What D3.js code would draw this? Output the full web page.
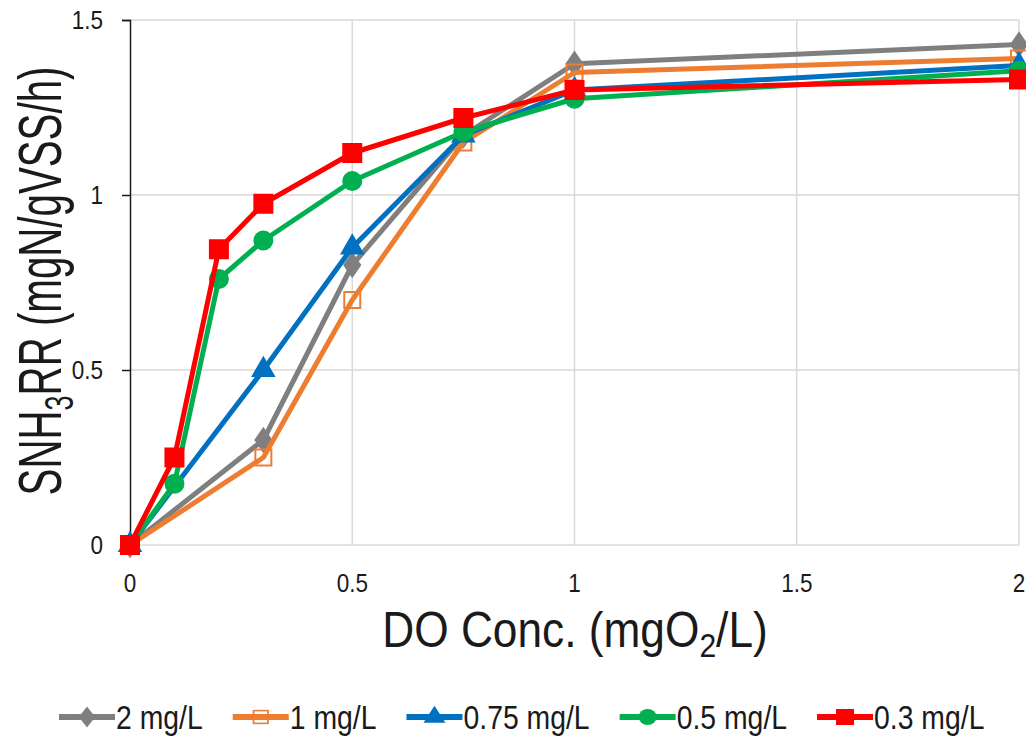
<!DOCTYPE html>
<html>
<head>
<meta charset="utf-8">
<script src="https://cdn.jsdelivr.net/npm/d3@7"></script>
<style>
  body { margin: 0; background: #fff; }
  text { font-family: "Liberation Sans", Arial, sans-serif; fill: #1a1a1a; }
</style>
</head>
<body>
<div id="chart"></div>
<script>
// data
var seriesNames = ["2 mg/L", "1 mg/L", "0.75 mg/L", "0.5 mg/L", "0.3 mg/L"];
var seriesColors = ["#7f7f7f", "#ed7d31", "#0070c0", "#00b050", "#ff0000"];
var seriesMarkers = ["diamond", "openSquare", "triangle", "circle", "square"];

var doShort = [0, 0.3, 0.5, 0.75, 1, 2];
var doLong = [0, 0.1, 0.2, 0.3, 0.5, 0.75, 1, 2];

var rate2 = [0, 0.30, 0.80, 1.17, 1.375, 1.43];
var rate1 = [0, 0.25, 0.70, 1.15, 1.35, 1.39];
var rate075 = [0, 0.50, 0.85, 1.17, 1.30, 1.37];
var rate05 = [0, 0.175, 0.76, 0.87, 1.04, 1.18, 1.275, 1.355];
var rate03 = [0, 0.25, 0.845, 0.975, 1.12, 1.22, 1.30, 1.33];

var xTicks = [0, 0.5, 1, 1.5, 2];
var yTicks = [0, 0.5, 1, 1.5];

var seriesX = [doShort, doShort, doShort, doLong, doLong];
var seriesY = [rate2, rate1, rate075, rate05, rate03];

var width = 1026, height = 736;

var svg = d3.select("#chart").append("svg")
  .attr("width", width).attr("height", height);

var x = d3.scaleLinear().domain([0, 2]).range([130, 1019]);
var y = d3.scaleLinear().domain([0, 1.5]).range([545, 20]);

// grid
svg.append("g").selectAll("line").data(yTicks).enter().append("line")
  .attr("x1", x(0)).attr("x2", x(2))
  .attr("y1", function(d) { return y(d); }).attr("y2", function(d) { return y(d); })
  .attr("stroke", "#d9d9d9").attr("stroke-width", 1.5);
svg.append("g").selectAll("line").data(xTicks.slice(1)).enter().append("line")
  .attr("y1", y(0)).attr("y2", y(1.5))
  .attr("x1", function(d) { return x(d); }).attr("x2", function(d) { return x(d); })
  .attr("stroke", "#d9d9d9").attr("stroke-width", 1.5);

// left axis
var yAxis = d3.axisLeft(y).tickValues(yTicks).tickSize(8).tickPadding(19)
  .tickFormat(function(d) { return String(d); });
var yg = svg.append("g").attr("transform", "translate(" + x(0) + ",0)").call(yAxis);
yg.select(".domain").attr("stroke", "#1a1a1a").attr("stroke-width", 1.5);
yg.selectAll(".tick line").attr("stroke", "#1a1a1a").attr("stroke-width", 1.5);
yg.selectAll(".tick text").attr("font-size", 25).attr("fill", "#1a1a1a")
  .attr("font-family", "Liberation Sans, Arial, sans-serif")
  .attr("transform", "translate(-27,0) scale(0.9,1) translate(27,0)");

// bottom tick labels (no tick marks)
svg.append("g").selectAll("text").data(xTicks).enter().append("text")
  .attr("text-anchor", "middle")
  .attr("font-size", 25)
  .attr("transform", function(d) { return "translate(" + x(d) + ",592) scale(0.9,1)"; })
  .text(function(d) { return String(d); });

// axis titles
var xt = svg.append("text").attr("text-anchor", "middle").attr("font-size", 50)
  .attr("transform", "translate(575,647) scale(0.885,1)");
xt.append("tspan").text("DO Conc. (mgO");
xt.append("tspan").attr("font-size", 34).attr("dy", 10).text("2");
xt.append("tspan").attr("dy", -10).text("/L)");

var yt = svg.append("text").attr("text-anchor", "middle").attr("font-size", 61)
  .attr("transform", "translate(61,281) rotate(-90) scale(0.66,1)");
yt.append("tspan").text("SNH");
yt.append("tspan").attr("font-size", 41).attr("dy", 12).text("3");
yt.append("tspan").attr("dy", -12).text("RR (mgN/gVSS/h)");

function drawMarker(g, kind, color) {
  if (kind === "diamond") {
    g.append("path").attr("d", d3.symbol().type(d3.symbolDiamond).size(200)())
      .attr("fill", color).attr("transform", "scale(1.2,1)");
  } else if (kind === "openSquare") {
    g.append("rect").attr("x", -8).attr("y", -8).attr("width", 16).attr("height", 16)
      .attr("fill", "none").attr("stroke", color).attr("stroke-width", 2);
  } else if (kind === "triangle") {
    g.append("path").attr("d", d3.symbol().type(d3.symbolTriangle).size(260)())
      .attr("fill", color);
  } else if (kind === "circle") {
    g.append("circle").attr("r", 10).attr("fill", color);
  } else {
    g.append("rect").attr("x", -10).attr("y", -10).attr("width", 20).attr("height", 20)
      .attr("fill", color);
  }
}

var line = d3.line()
  .x(function(d) { return x(d[0]); })
  .y(function(d) { return y(d[1]); });

for (var s = 0; s < seriesNames.length; s++) {
  var pts = seriesX[s].map(function(v, i) { return [v, seriesY[s][i]]; });
  var sg = svg.append("g");
  sg.append("path").datum(pts).attr("d", line)
    .attr("fill", "none").attr("stroke", seriesColors[s])
    .attr("stroke-width", 5).attr("stroke-linejoin", "round");
  for (var i = 0; i < pts.length; i++) {
    var mg = sg.append("g").attr("transform", "translate(" + x(pts[i][0]) + "," + y(pts[i][1]) + ")");
    drawMarker(mg, seriesMarkers[s], seriesColors[s]);
  }
}

// legend
var legend = svg.append("g");
var lx = 59;
var legendSqueeze = 0.86;
for (var s = 0; s < seriesNames.length; s++) {
  var item = legend.append("g").attr("transform", "translate(" + lx + ",717)");
  item.append("line").attr("x1", 0).attr("x2", 56).attr("y1", 0).attr("y2", 0)
    .attr("stroke", seriesColors[s]).attr("stroke-width", 6);
  var mk = item.append("g").attr("transform", "translate(28,0) scale(0.9,0.8)");
  drawMarker(mk, seriesMarkers[s], seriesColors[s]);
  var tx = item.append("text").attr("font-size", 33)
    .attr("transform", "translate(57,12) scale(" + legendSqueeze + ",1)")
    .text(seriesNames[s]);
  var w = tx.node().getComputedTextLength() * legendSqueeze;
  lx += 57 + w + 30;
}
</script>
</body>
</html>
